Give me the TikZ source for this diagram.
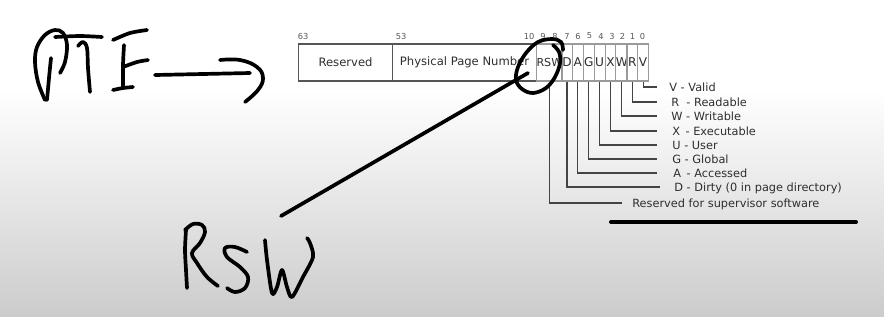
\documentclass[tikz,border=0pt]{standalone}
\usepackage{fontspec}
\setmainfont{DejaVu Sans}
\definecolor{txt}{HTML}{2E2E2E}
\definecolor{bigline}{HTML}{555555}
\definecolor{smline}{HTML}{9A9A9A}
\definecolor{leadc}{HTML}{444444}
\begin{document}
\begin{tikzpicture}[x=0.02cm,y=-0.02cm,
  ink/.style={line width=2.1pt, line cap=round, line join=round},
  bfield/.style={draw=bigline, line width=0.6pt, inner sep=0pt, minimum height=0.74cm, anchor=west, text=txt, font=\fontsize{6.6}{7}\selectfont},
  sfield/.style={draw=smline, line width=0.6pt, inner sep=0pt, minimum height=0.74cm, minimum width=0.2175cm, anchor=west, text=txt, font=\fontsize{6.9}{7}\selectfont},
  bitno/.style={inner sep=0pt, text=txt!80, font=\fontsize{4.7}{5}\selectfont},
  lbl/.style={inner sep=0pt, anchor=mid west, text=txt, font=\fontsize{6.45}{7}\selectfont},
  lead/.style={draw=leadc, line width=0.6pt}]
% background
\useasboundingbox (0,0) rectangle (884,316);
\fill[white] (0,0) rectangle (884,316);
\shade[top color=white, bottom color=black!20] (0,90) rectangle (884,316);
% register fields
\node[bfield, minimum width=1.88cm] (fRes) at (298,62.5) {Reserved};
\node[bfield, minimum width=2.88cm] (fPPN) at (392,62.5) {Physical Page Number};
\node[sfield, minimum width=0.5cm, font=\fontsize{6.3}{7}\selectfont] (fRSW) at (536,62.5) {RSW};
\foreach \l [count=\i from 0] in {D,A,G,U,X,W,R,V}
  \node[sfield] (f\l) at ({561+10.875*\i},62.5) {\l};
% bit numbers
\node[bitno] (b63) at (303,36) {63};
\node[bitno] (b53) at (401,36) {53};
\node[bitno] (b10) at (529,36) {10};
\node[bitno] (b9) at (543,36) {9};
\node[bitno] (b8) at (555,36) {8};
\node[bitno] (b7) at (567,36) {7};
\node[bitno] (b6) at (578,36) {6};
\node[bitno] (b5) at (589.5,36) {5};
\node[bitno] (b4) at (601,36) {4};
\node[bitno] (b3) at (612,36) {3};
\node[bitno] (b2) at (622.5,36) {2};
\node[bitno] (b1) at (632.5,36) {1};
\node[bitno] (b0) at (642.5,36) {0};
% labels
\node[lbl] (lV) at (669,87) {V - Valid};
\node[lbl] (lR) at (671,102) {R \ - Readable};
\node[lbl] (lW) at (671,116) {W - Writable};
\node[lbl] (lX) at (672,131) {X \,- Executable};
\node[lbl] (lU) at (672,145) {U - User};
\node[lbl] (lG) at (672,159) {G - Global};
\node[lbl] (lA) at (673,173) {A \,- Accessed};
\node[lbl] (lD) at (674,187) {D - Dirty (0 in page directory)};
\node[lbl] (lRSW) at (632,203) {Reserved for supervisor software};
% leaders
\draw[lead] (fV.south) |- ([xshift=-0.24cm]lV.mid west);
\draw[lead] (fR.south) |- ([xshift=-0.28cm]lR.mid west);
\draw[lead] (fW.south) |- ([xshift=-0.28cm]lW.mid west);
\draw[lead] (fX.south) |- ([xshift=-0.30cm]lX.mid west);
\draw[lead] (fU.south) |- ([xshift=-0.30cm]lU.mid west);
\draw[lead] (fG.south) |- ([xshift=-0.30cm]lG.mid west);
\draw[lead] (fA.south) |- ([xshift=-0.32cm]lA.mid west);
\draw[lead] (fD.south) |- ([xshift=-0.28cm]lD.mid west);
\draw[lead] (fRSW.south) |- ([xshift=-0.20cm]lRSW.mid west);
% handwriting: PTE
\draw[ink] plot[smooth, tension=0.6] coordinates {(45,100) (38,82) (35,62) (37,47) (45,35) (55,30) (63,33) (67,45) (65,62) (60,73)};
\draw[ink] plot[smooth] coordinates {(51,58) (49,78) (47,100)};
\draw[ink] plot[smooth] coordinates {(55,37) (80,36) (102,37)};
\draw[ink] plot[smooth, tension=0.6] coordinates {(78,46) (83,42) (87,48) (88,68) (90,92)};
\draw[ink] plot[smooth] coordinates {(113,40) (130,33) (147,30)};
\draw[ink] plot[smooth] coordinates {(124,45) (123,65) (123,88)};
\draw[ink] plot[smooth] coordinates {(123,67) (137,62) (148,60)};
\draw[ink] plot[smooth] coordinates {(113,90) (123,88) (133,87)};
% arrow
\draw[ink] (155,75) -- (250,73);
\draw[ink] plot[smooth, tension=0.7] coordinates {(220,60) (240,60) (257,67) (263,78) (258,90) (245,102)};
% circle around RSW and line
\draw[ink] plot[smooth, tension=0.6] coordinates {(563,50) (561,42) (552,39) (538,42) (526,53) (518,67) (516,80) (522,89) (533,93) (546,88) (555,77) (560,63) (559,52) (553,45)};
\coordinate (tailA) at (528,73);
\coordinate (tailB) at (281,216);
\draw[ink] (tailA) -- (tailB);
% handwriting: RSW
\draw[ink] plot[smooth] coordinates {(186,230) (185,250) (186,270) (187,288)};
\draw[ink] plot[smooth, tension=0.6] coordinates {(185,230) (193,224) (202,225) (205,232) (200,243) (192,253) (197,263) (207,277) (218,286)};
\draw[ink] plot[smooth, tension=0.6] coordinates {(247,252) (235,247) (225,248) (227,257) (240,267) (248,277) (245,288) (235,292) (227,288)};
\draw[ink] plot[smooth, tension=0.5] coordinates {(265,240) (267,260) (272,293) (277,287) (282,270) (287,287) (292,297) (303,277) (313,257) (310,243) (307,238)};
% underline
\coordinate (ulA) at (611,222);
\coordinate (ulB) at (856,222);
\draw[ink, line width=2.3pt] (ulA) -- (ulB);
\end{tikzpicture}
\end{document}
